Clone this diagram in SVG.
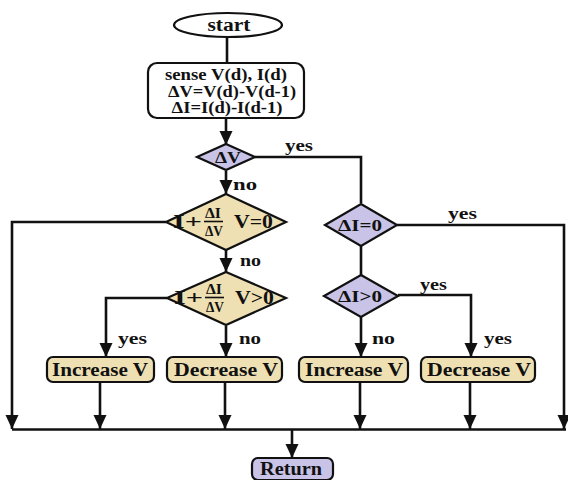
<svg xmlns="http://www.w3.org/2000/svg" width="568" height="480" viewBox="0 0 568 480">
<style>
text{font-family:"Liberation Serif","Times New Roman",serif;font-weight:bold;fill:#111;}
.c{text-anchor:middle;}
.lbl{font-size:17px;}
.tan{fill:#eee0b2;stroke:#111;stroke-width:2.2;}
.lav{fill:#c9c3e7;stroke:#111;stroke-width:2.2;}
.ln{fill:none;stroke:#111;stroke-width:2.6;}
.a{marker-end:url(#ah);}
</style>
<defs>
<marker id="ah" markerUnits="userSpaceOnUse" markerWidth="15" markerHeight="15" refX="14" refY="7" orient="auto">
<path d="M0,0.5 L14,7 L0,13.5 z" fill="#111"/>
</marker>
</defs>
<rect width="568" height="480" fill="#fff"/>
<g id="connectors">
<path class="ln" d="M227,37 V63"/>
<path class="ln a" d="M226,118 V145"/>
<path class="ln" d="M255,157 H361 V203"/>
<path class="ln a" d="M226,171 V194"/>
<path class="ln a" d="M166,222 H12 V429"/>
<path class="ln a" d="M226,250 V272"/>
<path class="ln a" d="M167,298 H106 V357"/>
<path class="ln a" d="M226,326 V357"/>
<path class="ln a" d="M397,225 H564 V429"/>
<path class="ln" d="M361,246 V275"/>
<path class="ln a" d="M398,295 H471 V357"/>
<path class="ln a" d="M361,317 V357"/>
<path class="ln a" d="M100,383 V429"/>
<path class="ln a" d="M225,383 V429"/>
<path class="ln a" d="M360,383 V429"/>
<path class="ln a" d="M470,383 V429"/>
<path class="ln" d="M12,429.5 H566"/>
<path class="ln a" d="M292,430 V458"/>
<text class="lbl" x="285" y="151" textLength="28" lengthAdjust="spacingAndGlyphs">yes</text>
<text class="lbl" x="233" y="190" textLength="24" lengthAdjust="spacingAndGlyphs">no</text>
<text class="lbl" x="240" y="266" textLength="21" lengthAdjust="spacingAndGlyphs">no</text>
<text class="lbl" x="448" y="219" textLength="29" lengthAdjust="spacingAndGlyphs">yes</text>
<text class="lbl" x="420" y="290" textLength="27" lengthAdjust="spacingAndGlyphs">yes</text>
<text class="lbl" x="118" y="344" textLength="29" lengthAdjust="spacingAndGlyphs">yes</text>
<text class="lbl" x="239" y="344" textLength="22" lengthAdjust="spacingAndGlyphs">no</text>
<text class="lbl" x="372" y="344" textLength="23" lengthAdjust="spacingAndGlyphs">no</text>
<text class="lbl" x="484" y="344" textLength="28" lengthAdjust="spacingAndGlyphs">yes</text>
</g>
<g id="start">
<ellipse class="lav" cx="228" cy="25" rx="54" ry="12" style="fill:#fff"/>
<text class="c" x="229" y="31" font-size="18" textLength="43" lengthAdjust="spacingAndGlyphs">start</text>
</g>
<g id="sense">
<rect class="lav" x="148" y="63" width="156" height="55" rx="9" style="fill:#fff"/>
<text class="c" x="226" y="80" font-size="16" textLength="122" lengthAdjust="spacingAndGlyphs">sense V(d), I(d)</text>
<text class="c" x="232" y="97" font-size="16" textLength="128" lengthAdjust="spacingAndGlyphs">ΔV=V(d)-V(d-1)</text>
<text class="c" x="227" y="113" font-size="16" textLength="111" lengthAdjust="spacingAndGlyphs">ΔI=I(d)-I(d-1)</text>
</g>
<g id="dv">
<polygon class="lav" points="226,144 255,157 226,170 197,157"/>
<text class="c" x="228" y="163" font-size="17" textLength="26" lengthAdjust="spacingAndGlyphs">ΔV</text>
</g>
<g id="d1">
<polygon class="tan" points="226,194 286,222 226,250 166,222"/>
<text x="173" y="228" font-size="18" textLength="29" lengthAdjust="spacingAndGlyphs">I+</text>
<text class="c" x="213" y="218" font-size="15" textLength="16" lengthAdjust="spacingAndGlyphs">ΔI</text>
<line x1="204" y1="221.5" x2="223" y2="221.5" stroke="#111" stroke-width="1.6"/>
<text class="c" x="214" y="236" font-size="15" textLength="18" lengthAdjust="spacingAndGlyphs">ΔV</text>
<text x="234" y="228" font-size="18" textLength="39" lengthAdjust="spacingAndGlyphs">V=0</text>
</g>
<g id="d2">
<polygon class="tan" points="226,272 286,298 226,325 167,298"/>
<text x="174" y="304" font-size="18" textLength="29" lengthAdjust="spacingAndGlyphs">I+</text>
<text class="c" x="214" y="294" font-size="15" textLength="16" lengthAdjust="spacingAndGlyphs">ΔI</text>
<line x1="205" y1="297.5" x2="224" y2="297.5" stroke="#111" stroke-width="1.6"/>
<text class="c" x="215" y="312" font-size="15" textLength="18" lengthAdjust="spacingAndGlyphs">ΔV</text>
<text x="235" y="304" font-size="18" textLength="39" lengthAdjust="spacingAndGlyphs">V&gt;0</text>
</g>
<g id="di0">
<polygon class="lav" points="361,204 397,225 361,246 325,225"/>
<text class="c" x="360" y="231" font-size="17" textLength="44" lengthAdjust="spacingAndGlyphs">ΔI=0</text>
</g>
<g id="dig0">
<polygon class="lav" points="361,275 398,296 361,317 324,296"/>
<text class="c" x="360" y="302" font-size="17" textLength="44" lengthAdjust="spacingAndGlyphs">ΔI&gt;0</text>
</g>
<g id="inc1">
<rect class="tan" x="47" y="357" width="107" height="25" rx="6"/>
<text class="c" x="100" y="376" font-size="18" textLength="96" lengthAdjust="spacingAndGlyphs">Increase V</text>
</g>
<g id="dec1">
<rect class="tan" x="167" y="357" width="115" height="25" rx="6"/>
<text class="c" x="226" y="376" font-size="18" textLength="104" lengthAdjust="spacingAndGlyphs">Decrease V</text>
</g>
<g id="inc2">
<rect class="tan" x="299" y="357" width="109" height="25" rx="6"/>
<text class="c" x="354" y="376" font-size="18" textLength="98" lengthAdjust="spacingAndGlyphs">Increase V</text>
</g>
<g id="dec2">
<rect class="tan" x="421" y="357" width="114" height="25" rx="6"/>
<text class="c" x="479" y="376" font-size="18" textLength="104" lengthAdjust="spacingAndGlyphs">Decrease V</text>
</g>
<g id="return">
<rect class="lav" x="252" y="458" width="81" height="22" rx="6"/>
<text class="c" x="291" y="475" font-size="18" textLength="62" lengthAdjust="spacingAndGlyphs">Return</text>
</g>
</svg>
